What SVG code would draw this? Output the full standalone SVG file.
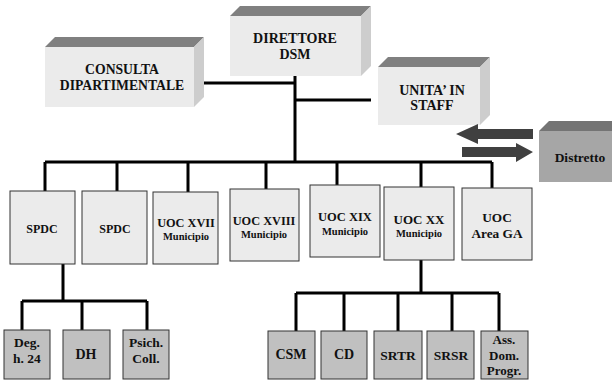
<svg xmlns="http://www.w3.org/2000/svg" width="612" height="380" viewBox="0 0 612 380">
<style>
.t{font-family:"Liberation Serif","Times New Roman",serif;font-weight:bold;fill:#111;text-anchor:middle}
.front{fill:#ebebeb}
.top{fill:#808080}
.side{fill:#cdcdcd}
.box{fill:#ebebeb;stroke:#333;stroke-width:1}
.sub{fill:#c0c0c0;stroke:#333;stroke-width:1}
.ln{stroke:#000;stroke-width:3;fill:none}
.arr{fill:#404040}
</style>
<rect width="612" height="380" fill="#fff"/>
<g id="connectors">
<path class="ln" d="M295 76V163M194 83H295M295 100H371"/>
<path class="ln" d="M45 162H492M45 162V191M117 162V191M188 162V192M266 162V189M337 162V185M421 162V187M492 162V188"/>
<path class="ln" d="M63 264V301M22 301H147M22 301V330M82 301V330M147 301V330"/>
<path class="ln" d="M421 260V293M296 293H499M296 293V331M344 293V331M398 293V331M452 293V331M499 293V331"/>
</g>
<g id="consulta">
<polygon class="top" points="45,47 55,37 204,37 194,47"/>
<polygon class="side" points="194,47 204,37 204,97 194,107"/>
<rect class="front" x="45" y="47" width="149" height="60"/>
<text class="t" x="122" y="74" font-size="13.7">CONSULTA</text>
<text class="t" x="122" y="90" font-size="13.7">DIPARTIMENTALE</text>
</g>
<g id="direttore">
<polygon class="top" points="230,16 240,6 371,6 361,16"/>
<polygon class="side" points="361,16 371,6 371,66 361,76"/>
<rect class="front" x="230" y="16" width="131" height="60"/>
<text class="t" x="295" y="43" font-size="14">DIRETTORE</text>
<text class="t" x="295" y="59" font-size="14">DSM</text>
</g>
<g id="staff">
<polygon class="top" points="378,67 388,57 490,57 480,67"/>
<polygon class="side" points="480,67 490,57 490,115 480,125"/>
<rect class="front" x="378" y="67" width="102" height="58"/>
<text class="t" x="432" y="95" font-size="14">UNITA’ IN</text>
<text class="t" x="432" y="110" font-size="14">STAFF</text>
</g>
<g id="distretto">
<polygon points="539,131 549,121 622,121 612,131" fill="#747474"/>
<rect x="539" y="131" width="80" height="51" fill="#a6a6a6"/>
<text class="t" x="580" y="162" font-size="13.5">Distretto</text>
</g>
<g id="arrows">
<polygon class="arr" points="533,129 478,129 478,124 456,134 478,144 478,139 533,139"/>
<polygon class="arr" points="462,147 516,147 516,143 533,152 516,162 516,157 462,157"/>
</g>
<g id="spdc1"><rect class="box" x="10" y="191" width="65" height="73"/><text class="t" x="42" y="233" font-size="12">SPDC</text></g>
<g id="spdc2"><rect class="box" x="82" y="191" width="65" height="73"/><text class="t" x="115" y="233" font-size="12">SPDC</text></g>
<g id="uoc17"><rect class="box" x="153" y="192" width="65" height="72"/><text class="t" x="186" y="227" font-size="12.3">UOC XVII</text><text class="t" x="186" y="240" font-size="10.5">Municipio</text></g>
<g id="uoc18"><rect class="box" x="230" y="189" width="69" height="72"/><text class="t" x="264" y="225" font-size="12.3">UOC XVIII</text><text class="t" x="264" y="238" font-size="10.5">Municipio</text></g>
<g id="uoc19"><rect class="box" x="310" y="185" width="70" height="72"/><text class="t" x="345" y="221" font-size="12.5">UOC XIX</text><text class="t" x="345" y="235" font-size="10.5">Municipio</text></g>
<g id="uoc20"><rect class="box" x="384" y="187" width="70" height="73"/><text class="t" x="419" y="224" font-size="13">UOC XX</text><text class="t" x="419" y="237" font-size="10.5">Municipio</text></g>
<g id="uocga"><rect class="box" x="462" y="188" width="70" height="72"/><text class="t" x="497" y="222" font-size="13.3">UOC</text><text class="t" x="497" y="238" font-size="13.3">Area GA</text></g>
<g id="deg"><rect class="sub" x="4" y="330" width="46" height="49"/><text class="t" x="27" y="347" font-size="13.5">Deg.</text><text class="t" x="27" y="363" font-size="13.5">h. 24</text></g>
<g id="dh"><rect class="sub" x="63" y="330" width="47" height="49"/><text class="t" x="86" y="359" font-size="14">DH</text></g>
<g id="psich"><rect class="sub" x="123" y="330" width="46" height="49"/><text class="t" x="146" y="347" font-size="13.5">Psich.</text><text class="t" x="146" y="363" font-size="13.5">Coll.</text></g>
<g id="csm"><rect class="sub" x="268" y="331" width="47" height="48"/><text class="t" x="291" y="359" font-size="14">CSM</text></g>
<g id="cd"><rect class="sub" x="321" y="331" width="46" height="48"/><text class="t" x="344" y="359" font-size="14">CD</text></g>
<g id="srtr"><rect class="sub" x="374" y="331" width="48" height="48"/><text class="t" x="398" y="360" font-size="13.5">SRTR</text></g>
<g id="srsr"><rect class="sub" x="427" y="331" width="47" height="48"/><text class="t" x="451" y="360" font-size="13.5">SRSR</text></g>
<g id="ass"><rect class="sub" x="481" y="331" width="47" height="48"/><text class="t" x="504" y="344" font-size="13">Ass.</text><text class="t" x="504" y="360" font-size="13">Dom.</text><text class="t" x="504" y="375" font-size="13">Progr.</text></g>
</svg>
